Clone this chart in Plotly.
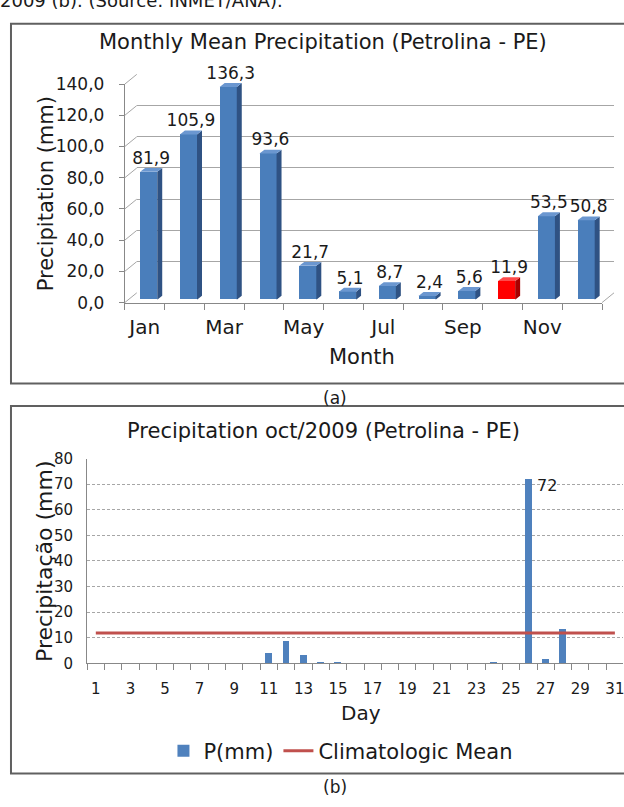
import plotly.graph_objects as go

# ---------------- data ----------------
months = ["Jan", "Feb", "Mar", "Apr", "May", "Jun", "Jul", "Aug", "Sep", "Oct", "Nov", "Dec"]
monthly_mean = [81.9, 105.9, 136.3, 93.6, 21.7, 5.1, 8.7, 2.4, 5.6, 11.9, 53.5, 50.8]
highlight_month = "Oct"
month_tick_labels = ["Jan", "Mar", "May", "Jul", "Sep", "Nov"]
y_ticks_a = [0, 20, 40, 60, 80, 100, 120, 140]

days = list(range(1, 32))
daily_oct_2009 = [0, 0, 0, 0, 0, 0, 0, 0, 0, 0,
                  4.2, 8.8, 3.6, 0.8, 0.8, 0, 0, 0, 0, 0,
                  0, 0, 0, 0.4, 0, 72, 1.9, 13.6, 0, 0, 0]
day_tick_labels = list(range(1, 32, 2))
y_ticks_b = [0, 10, 20, 30, 40, 50, 60, 70, 80]
climatologic_mean = monthly_mean[months.index("Oct")]

# ---------------- geometry helpers ----------------
W, H = 624, 807
FONT = "DejaVu Sans"
TXT = "#1a1a1a"


def fx(x):
    return x / W


def fy(y):
    return 1 - y / H


fig = go.Figure()

# ---- panel (a): pseudo-3D column chart ----
AX0, AX1 = 125, 603      # front floor edge, px
AY0, AY1 = 300, 76       # front y for 0 and 140
DDX, DDY = 12, -10       # depth offset of back wall
BDX, BDY = 4, -3         # offset of bar plane
ppx = (AX1 - AX0) / 12.0
ppy = (AY0 - AY1) / 140.0
bw = 0.43
sdx = 5 / ppx
sdy = 4 / ppy

xs_num = list(range(1, 13))
front_cols = []
side_blue = dict(x=[], y=[])
top_blue = dict(x=[], y=[])
side_red = dict(x=[], y=[])
top_red = dict(x=[], y=[])
for m, x, v in zip(months, xs_num, monthly_mean):
    red = m == highlight_month
    front_cols.append("#FF0000" if red else "#4A7EBB")
    s = side_red if red else side_blue
    t = top_red if red else top_blue
    s["x"] += [x + bw / 2, x + bw / 2 + sdx, x + bw / 2 + sdx, x + bw / 2, x + bw / 2, None]
    s["y"] += [0, sdy, v + sdy, v, 0, None]
    t["x"] += [x - bw / 2, x + bw / 2, x + bw / 2 + sdx, x - bw / 2 + sdx, x - bw / 2, None]
    t["y"] += [v, v, v + sdy, v + sdy, v, None]

# invisible anchors so the front axis and the back wall get drawn
fig.add_trace(go.Scatter(x=[1], y=[0], mode="markers", marker=dict(opacity=0), xaxis="x", yaxis="y",
                         showlegend=False, hoverinfo="skip"))
fig.add_trace(go.Scatter(x=[1], y=[0], mode="markers", marker=dict(opacity=0), xaxis="x2", yaxis="y2",
                         showlegend=False, hoverinfo="skip"))

fig.add_trace(go.Bar(x=xs_num, y=monthly_mean, width=bw, marker=dict(color=front_cols, line=dict(width=0)),
                     xaxis="x3", yaxis="y3", showlegend=False, hoverinfo="skip"))
for poly, col in [(side_blue, "#2F5283"), (top_blue, "#6B97D0"), (side_red, "#A80000"), (top_red, "#FF4A4A")]:
    fig.add_trace(go.Scatter(x=poly["x"], y=poly["y"], fill="toself", fillcolor=col, mode="lines",
                             line=dict(width=0, color=col), xaxis="x3", yaxis="y3",
                             showlegend=False, hoverinfo="skip"))
fig.add_trace(go.Scatter(x=[x + sdx / 2 for x in xs_num], y=[v + sdy for v in monthly_mean], mode="text",
                         text=[f"{v:.1f}".replace(".", ",") for v in monthly_mean],
                         textposition="top center", textfont=dict(family=FONT, size=17, color=TXT),
                         cliponaxis=False, xaxis="x3", yaxis="y3", showlegend=False, hoverinfo="skip"))

# ---- panel (b) ----
BX0, BDAY = 87.3, 17.33
BY0, BY1 = 670, 460
fig.add_trace(go.Bar(x=days, y=daily_oct_2009, width=0.4, marker=dict(color="#4F81BD", line=dict(width=0)),
                     name="P(mm)", xaxis="x4", yaxis="y4"))
fig.add_trace(go.Scatter(x=[days[0], days[-1]], y=[climatologic_mean, climatologic_mean], mode="lines",
                         line=dict(color="#C0504D", width=3), name="Climatologic Mean",
                         xaxis="x4", yaxis="y4"))
peak = max(daily_oct_2009)
peak_day = days[daily_oct_2009.index(peak)]

GRID = "#A6A6A6"
AXC = "#888888"
layout = dict(
    width=W, height=H, margin=dict(l=0, r=0, t=0, b=0),
    paper_bgcolor="white", plot_bgcolor="rgba(0,0,0,0)",
    font=dict(family=FONT, color=TXT),
    bargap=0,
    # front axis of panel a
    xaxis=dict(domain=[fx(AX0), fx(AX1)], range=[0.5, 12.5], anchor="y",
               tickvals=[xs_num[months.index(m)] for m in month_tick_labels], ticktext=month_tick_labels,
               ticks="", showline=True, linecolor=AXC, showgrid=False, zeroline=False,
               ticklabelstandoff=6, tickfont=dict(size=20, family=FONT, color=TXT),
               minor=dict(tick0=0.5, dtick=1, ticks="outside", ticklen=6, tickcolor=AXC, showgrid=False)),
    yaxis=dict(domain=[fy(AY0), fy(AY1)], range=[0, 140], anchor="x",
               tickvals=y_ticks_a, ticktext=[f"{t:.1f}".replace(".", ",") for t in y_ticks_a],
               ticks="outside", ticklen=5, tickcolor=AXC, showline=True, linecolor=AXC,
               ticklabelstandoff=11,
               showgrid=False, zeroline=False, tickfont=dict(size=17, family=FONT, color=TXT)),
    # back wall
    xaxis2=dict(domain=[fx(AX0 + DDX), fx(AX1 + DDX)], range=[0.5, 12.5], anchor="y2", visible=False),
    yaxis2=dict(domain=[fy(AY0 + DDY), fy(AY1 + DDY)], range=[0, 140], anchor="x2",
                tickvals=y_ticks_a, showticklabels=False, ticks="", showgrid=True, gridcolor=GRID,
                gridwidth=1, zeroline=False, showline=False),
    # bar plane
    xaxis3=dict(domain=[fx(AX0 + BDX), fx(AX1 + BDX)], range=[0.5, 12.5], anchor="y3", visible=False),
    yaxis3=dict(domain=[fy(AY0 + BDY), fy(AY1 + BDY)], range=[0, 140], anchor="x3", visible=False),
    # panel b
    xaxis4=dict(domain=[fx(BX0), 1], range=[0.5, 0.5 + (W - BX0) / BDAY], anchor="y4",
                tickvals=day_tick_labels, ticks="", showline=True, linecolor=AXC, showgrid=False,
                zeroline=False, ticklabeloverflow="allow", ticklabelstandoff=12,
                tickfont=dict(size=15, family=FONT, color=TXT),
                minor=dict(tick0=0.5, dtick=1, ticks="outside", ticklen=6, tickcolor=AXC, showgrid=False)),
    yaxis4=dict(domain=[fy(BY0), fy(BY1)], range=[0, 80], anchor="x4", tickvals=y_ticks_b,
                ticks="", showline=True, linecolor=AXC, showgrid=True, gridcolor=GRID, griddash="3px,2px",
                gridwidth=1, zeroline=False, ticklabelstandoff=10,
                tickfont=dict(size=15, family=FONT, color=TXT)),
    showlegend=True,
    legend=dict(orientation="h", x=fx(341), xanchor="center", y=fy(760), yanchor="middle",
                font=dict(size=21, family=FONT, color=TXT), bgcolor="rgba(0,0,0,0)", itemwidth=30),
)
fig.update_layout(**layout)

shapes = []
# panel borders
shapes.append(dict(type="rect", xref="paper", yref="paper", x0=fx(11), x1=fx(640), y0=fy(383), y1=fy(14),
                   line=dict(color="#606060", width=2)))
shapes.append(dict(type="rect", xref="paper", yref="paper", x0=fx(11), x1=fx(640), y0=fy(783), y1=fy(406),
                   line=dict(color="#606060", width=2)))
# left wall diagonals and floor edge
for t in y_ticks_a:
    y = AY0 - t * ppy
    shapes.append(dict(type="line", xref="paper", yref="paper", x0=fx(AX0), y0=fy(y),
                       x1=fx(AX0 + DDX), y1=fy(y + DDY), line=dict(color=GRID, width=1)))
shapes.append(dict(type="line", xref="paper", yref="paper", x0=fx(AX1), y0=fy(AY0),
                   x1=fx(AX1 + DDX), y1=fy(AY0 + DDY), line=dict(color=GRID, width=1)))
fig.update_layout(shapes=shapes)

ann = [
    dict(text="2009 (b). (Source: INMET/ANA).", x=fx(-2), y=fy(-10), xanchor="left", yanchor="middle",
         font=dict(size=18)),
    dict(text="Monthly Mean Precipitation (Petrolina - PE)", x=fx(324), y=fy(33), xanchor="center",
         yanchor="middle", font=dict(size=21)),
    dict(text="Precipitation (mm)", x=fx(46), y=fy(188), textangle=-90, xanchor="center", yanchor="middle",
         font=dict(size=21)),
    dict(text="Month", x=fx(363), y=fy(356), xanchor="center", yanchor="middle", font=dict(size=21)),
    dict(text="(a)", x=fx(336), y=fy(398), xanchor="center", yanchor="middle", font=dict(size=17)),
    dict(text="Precipitation oct/2009 (Petrolina - PE)", x=fx(324), y=fy(432), xanchor="center",
         yanchor="middle", font=dict(size=21)),
    dict(text="Precipitação (mm)", x=fx(45), y=fy(565), textangle=-90, xanchor="center", yanchor="middle",
         font=dict(size=22)),
    dict(text="Day", x=fx(362), y=fy(721), xanchor="center", yanchor="middle", font=dict(size=20)),
    dict(text="(b)", x=fx(336), y=fy(797), xanchor="center", yanchor="middle", font=dict(size=17)),
    dict(text=f"{peak:g}", x=peak_day, y=peak, xref="x4", yref="y4", xanchor="left", yanchor="middle",
         xshift=7, yshift=-6, showarrow=False, font=dict(size=16)),
]
for a in ann:
    a.setdefault("xref", "paper")
    a.setdefault("yref", "paper")
    a.setdefault("showarrow", False)
fig.update_layout(annotations=ann)

fig.write_html("out.html", config={"displayModeBar": False},
               post_script="document.body.style.margin='0';document.body.style.overflow='hidden';")
